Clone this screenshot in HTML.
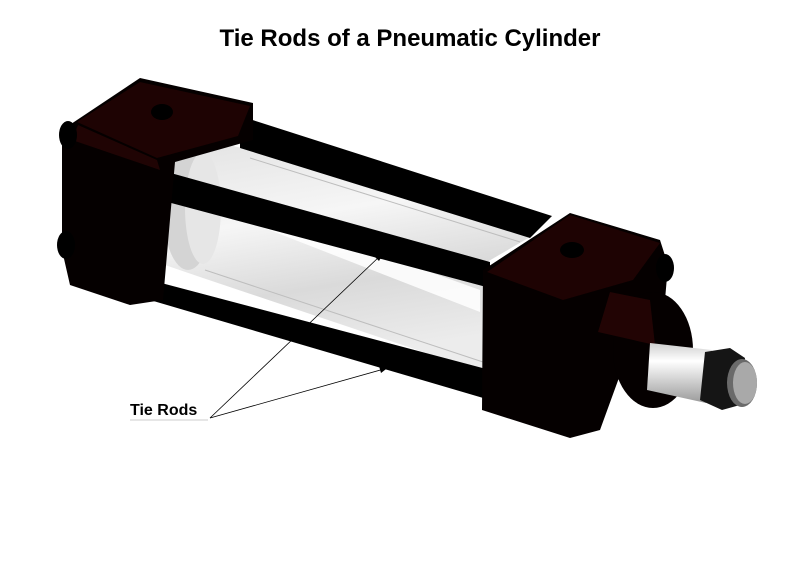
<!DOCTYPE html>
<html><head><style>
html,body{margin:0;padding:0;background:#fff;}
svg{display:block;}
</style></head><body>
<svg width="800" height="577" viewBox="0 0 800 577" xmlns="http://www.w3.org/2000/svg">
<defs>
<linearGradient id="gl" x1="0" y1="0" x2="0.25" y2="1">
<stop offset="0" stop-color="#e2e2e2"/><stop offset="0.4" stop-color="#f6f6f6"/><stop offset="0.7" stop-color="#dadada"/><stop offset="1" stop-color="#ececec"/>
</linearGradient>
<linearGradient id="rod" x1="0" y1="0" x2="0" y2="1">
<stop offset="0" stop-color="#cfcfcf"/><stop offset="0.3" stop-color="#ffffff"/><stop offset="1" stop-color="#9a9a9a"/>
</linearGradient>
</defs>
<text x="410" y="46" text-anchor="middle" font-family="Liberation Sans, sans-serif" font-weight="bold" font-size="24" fill="#000">Tie Rods of a Pneumatic Cylinder</text>

<!-- glass tube -->
<polygon points="165,150 200,138 250,150 530,237 487,262 483,372 200,277 165,265" fill="url(#gl)"/>
<ellipse cx="188" cy="208" rx="25" ry="62" fill="#d4d4d4"/>
<ellipse cx="203" cy="208" rx="18" ry="56" fill="#e6e6e6"/>
<polygon points="218,210 230,200 480,290 480,312" fill="#ffffff" opacity="0.85"/>
<line x1="250" y1="158" x2="520" y2="242" stroke="#bdbdbd" stroke-width="1"/>
<line x1="205" y1="270" x2="483" y2="362" stroke="#bdbdbd" stroke-width="1"/>

<!-- back upper rod -->
<polygon points="240,116 552,216 530,238 240,148" fill="#000"/>
<!-- middle rod -->
<polygon points="160,170 490,262 490,288 160,200" fill="#000"/>
<!-- bottom rod -->
<polygon points="150,280 490,370 490,400 150,300" fill="#000"/>

<!-- left cap -->
<polygon points="62,130 77,120 140,78 253,103 253,140 175,162 163,300 130,305 70,285 62,250" fill="#050000"/>
<polygon points="77,122 140,82 250,106 238,136 157,158" fill="#1e0303"/>
<polygon points="78,125 157,160 160,170 72,140" fill="#200404"/>
<ellipse cx="162" cy="112" rx="11" ry="8" fill="#000"/>
<ellipse cx="68" cy="135" rx="9" ry="14" fill="#000"/>
<ellipse cx="66" cy="245" rx="9" ry="14" fill="#000"/>

<!-- right cap -->
<polygon points="483,270 570,213 660,240 668,265 665,300 640,320 600,430 570,438 482,410" fill="#050000"/>
<polygon points="487,272 570,215 660,243 633,280 563,300" fill="#1e0303"/>
<ellipse cx="572" cy="250" rx="12" ry="8" fill="#000"/>
<ellipse cx="665" cy="268" rx="9" ry="14" fill="#000"/>
<ellipse cx="653" cy="350" rx="40" ry="58" fill="#050000"/>
<polygon points="610,292 650,300 655,345 598,332" fill="#220404"/>

<!-- piston rod -->
<polygon points="650,343 712,350 706,403 647,390" fill="url(#rod)"/>
<!-- nut -->
<polygon points="705,352 730,348 745,358 740,405 722,410 700,400" fill="#151515"/>
<ellipse cx="742" cy="383" rx="15" ry="24" fill="#6a6a6a"/>
<ellipse cx="745" cy="383" rx="12" ry="21" fill="#a9a9a9"/>

<!-- leader lines -->
<g stroke="#000" stroke-width="0.8" fill="none">
<line x1="210" y1="418" x2="380" y2="256"/>
<line x1="210" y1="418" x2="384" y2="369"/>
<line x1="130" y1="420" x2="208" y2="420" stroke="#bbb"/>
</g>
<polygon points="384,252 374,256 379,261" fill="#000"/>
<polygon points="390,366 379,366 381,373" fill="#000"/>
<text x="130" y="415" font-family="Liberation Sans, sans-serif" font-weight="bold" font-size="16" fill="#000">Tie Rods</text>
</svg>
</body></html>
